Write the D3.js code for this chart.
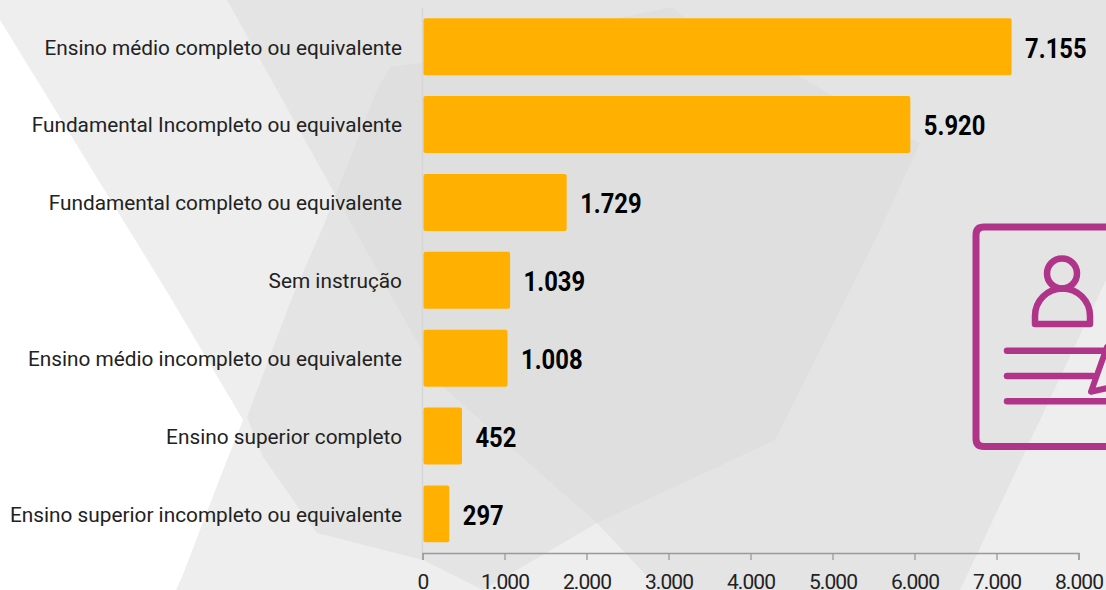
<!DOCTYPE html>
<html><head><meta charset="utf-8"><style>html,body{margin:0;padding:0;background:#fff;overflow:hidden}svg{display:block}</style>
<script src="https://cdn.jsdelivr.net/npm/d3@7"></script></head><body><svg id="c" width="1106" height="590"></svg>
<script>
const categories=["Ensino médio completo ou equivalente","Fundamental Incompleto ou equivalente","Fundamental completo ou equivalente","Sem instrução","Ensino médio incompleto ou equivalente","Ensino superior completo","Ensino superior incompleto ou equivalente"];
const values=[7155,5920,1729,1039,1008,452,297];
const valueLabels=["7.155","5.920","1.729","1.039","1.008","452","297"];
const tickValues=[0,1000,2000,3000,4000,5000,6000,7000,8000];
const tickLabels=["0","1.000","2.000","3.000","4.000","5.000","6.000","7.000","8.000"];
const svg=d3.select("#c");
const FONT="Roboto, sans-serif";
const shapeA="M227,0L391,295L441,385L517,453L597,523L660,590L960,590L1106,280L1106,0Z";
const shapeB="M420,63L623,17L673,7L683,17L800,77L832,95L920,143L880,230L775,440L597,523L483,590L423,560L317,533L307,520L263,457L247,417L293,295L323,227L377,90L390,67Z";
const defs=svg.append("defs");
defs.append("clipPath").attr("id","clipA").append("path").attr("d",shapeA);
const bg=svg.append("g");
bg.append("path").attr("fill","#eeeeee").attr("d","M0,20L0,0L1106,0L1106,590L176,590L182,577L223,470L243,420L169,295Z");
bg.append("path").attr("fill","#e4e4e4").attr("d",shapeA);
bg.append("path").attr("fill","#e4e4e4").attr("d",shapeB);
bg.append("path").attr("fill","#dfdfdf").attr("d",shapeB).attr("clip-path","url(#clipA)");
const x=d3.scaleLinear().domain([0,8000]).range([422.5,1078.5]);
const y=d3.scaleBand().domain(categories).range([7.8,552.8]).paddingInner(0.268).paddingOuter(0.134);
const barExtra=2.4;
svg.append("line").attr("x1",422.5).attr("x2",422.5).attr("y1",8).attr("y2",553).attr("stroke","#d6d6d6").attr("stroke-width",1.5);
svg.append("g").selectAll("rect").data(values).join("rect")
 .attr("x",x(0)+1).attr("y",(d,i)=>y(categories[i])).attr("width",d=>x(d)-x(0)-1+barExtra).attr("height",y.bandwidth()).attr("rx",2).attr("fill","#ffb000");
svg.append("g").selectAll("text").data(categories).join("text").attr("x",402).attr("y",d=>y(d)+y.bandwidth()/2+0.5).attr("dy","0.35em").attr("text-anchor","end").attr("font-family",FONT).attr("font-size",20.8).attr("fill","#222").text(d=>d);
svg.append("g").selectAll("text").data(values).join("text")
 .attr("transform",(d,i)=>`translate(${x(d)+barExtra+13.5},${y(categories[i])+y.bandwidth()/2+1}) scale(0.85,1)`)
 .attr("dy","0.35em").attr("font-family",FONT).attr("font-weight",700).attr("font-size",28).attr("fill","#000").text((d,i)=>valueLabels[i]);
const ax=svg.append("g").attr("transform","translate(0,553)").call(d3.axisBottom(x).tickValues(tickValues).tickFormat((d,i)=>tickLabels[i]).tickSize(7).tickPadding(10));
ax.selectAll("path,line").attr("stroke","#999").attr("stroke-width",1.3);
ax.selectAll("text").attr("font-family",FONT).attr("font-size",21).attr("letter-spacing",-0.9).attr("fill","#222").attr("y",36).attr("dy",0);
const icon=svg.append("g").attr("fill","none").attr("stroke","#b0358a").attr("stroke-width",6.5).attr("stroke-linecap","round").attr("stroke-linejoin","round");
icon.append("path").attr("d","M1112,227L984,227Q976,227 976,235L976,438.5Q976,446.5 984,446.5L1112,446.5").attr("stroke-width",7);
icon.append("circle").attr("cx",1062).attr("cy",273.5).attr("r",15);
icon.append("path").attr("d","M1035,324V316a27.5,27.5 0 0 1 55,0V324Z");
icon.append("path").attr("d","M1007,350.7L1112,350.7M1007,376L1093,376M1007,401.3L1112,401.3");
icon.append("path").attr("d","M1107,347L1091,391.7L1112,387").attr("stroke-width",6);
</script></body></html>
